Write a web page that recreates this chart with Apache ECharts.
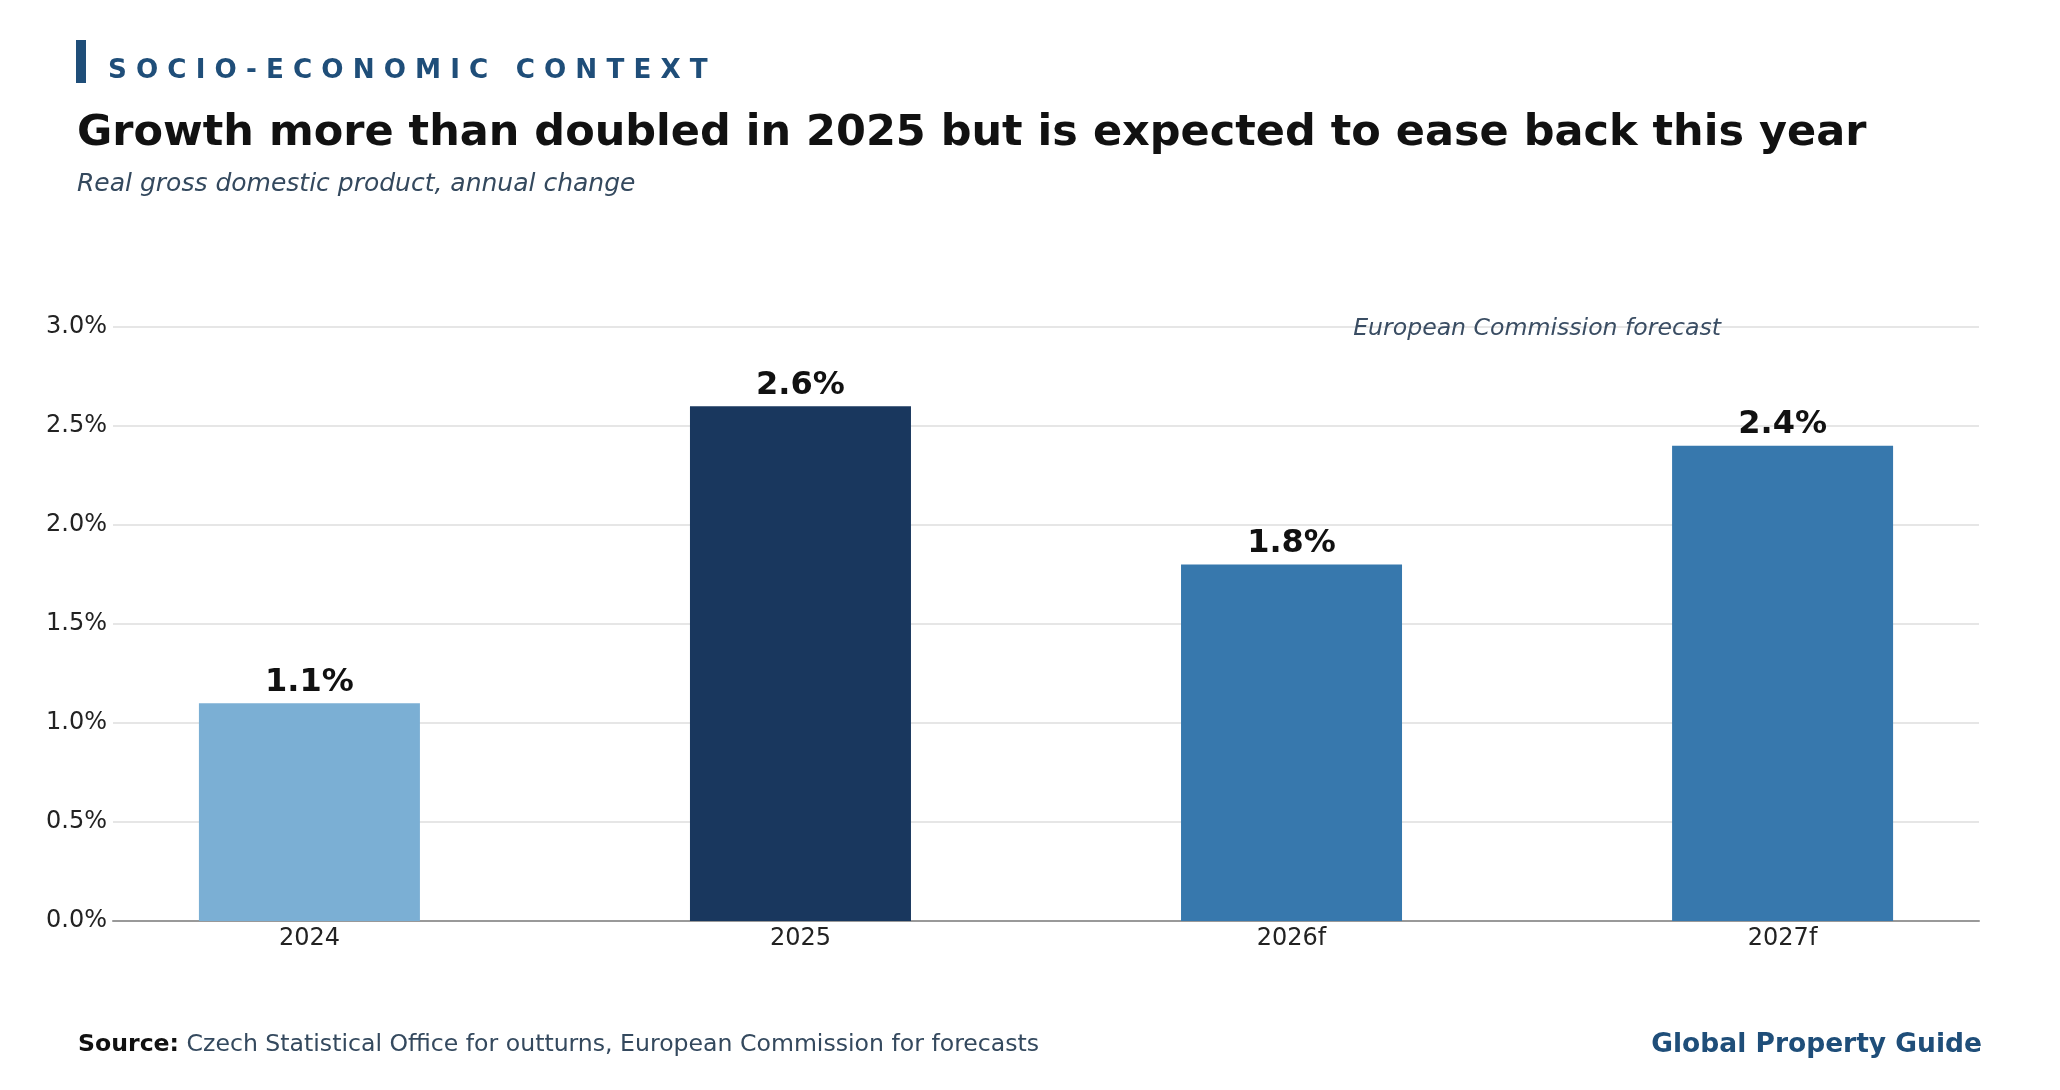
<!DOCTYPE html>
<html>
<head>
<meta charset="utf-8">
<script src="https://cdn.jsdelivr.net/npm/echarts@6/dist/echarts.min.js"></script>
<style>
  html, body { margin: 0; padding: 0; background: #fff; }
  #chart { width: 2060px; height: 1090px; }
</style>
</head>
<body>
<div id="chart"></div>
<script>
// data
var categories = ['2024', '2025', '2026f', '2027f'];
var growth = [1.1, 2.6, 1.8, 2.4];
var barColors = ['#7bafd4', '#19375e', '#3778ad', '#3778ad'];
var yTicks = [0, 0.5, 1.0, 1.5, 2.0, 2.5, 3.0];

var font = '"DejaVu Sans", "Noto Sans", sans-serif';

var myChart = echarts.init(document.getElementById('chart'));

var barData = growth.map(function (v, i) {
  return { value: [i, v], itemStyle: { color: barColors[i] } };
});

var option = {
  backgroundColor: '#fff',
  animation: false,
  textStyle: { fontFamily: font },
  grid: { left: 113, right: 81, top: 327, bottom: 169, containLabel: false },
  xAxis: {
    type: 'value',
    min: -0.4,
    max: 3.4,
    splitLine: { show: false },
    axisTick: { show: false },
    axisLine: { show: true, onZero: false, lineStyle: { color: '#999', width: 2 } },
    axisLabel: {
      customValues: [0, 1, 2, 3],
      formatter: function (v) { return categories[Math.round(v)] || ''; },
      color: '#222',
      fontSize: 24,
      fontFamily: font,
      margin: 6
    }
  },
  yAxis: {
    type: 'value',
    min: yTicks[0],
    max: yTicks[yTicks.length - 1],
    interval: 0.5,
    axisLine: { show: false },
    axisTick: { show: false },
    splitLine: { show: true, lineStyle: { color: '#dedede', width: 1.5 } },
    axisLabel: {
      formatter: function (v) { return v.toFixed(1) + '%'; },
      color: '#222',
      fontSize: 24,
      fontFamily: font,
      margin: 6,
      verticalAlign: 'middle',
      padding: [6, 0, 0, 0]
    }
  },
  series: [{
    type: 'bar',
    data: barData,
    barWidth: 221,
    label: {
      show: true,
      position: 'top',
      distance: 5,
      formatter: function (p) { return p.value[1].toFixed(1) + '%'; },
      color: '#111',
      fontSize: 32,
      fontWeight: 'bold',
      fontFamily: font
    },
    markPoint: {
      symbol: 'circle',
      symbolSize: 1,
      itemStyle: { color: 'rgba(0,0,0,0)' },
      data: [{ coord: [2.5, 3.0] }],
      label: {
        show: true,
        position: 'inside',
        offset: [0, 2],
        formatter: 'European Commission forecast',
        color: '#3a4d63',
        fontSize: 23.6,
        fontStyle: 'italic',
        fontFamily: font
      }
    }
  }],
  graphic: [
    { type: 'rect', left: 76, top: 40, shape: { width: 10, height: 43 }, style: { fill: '#1f4e79' } },
    { type: 'text', x: 108, y: 71, style: {
        text: 'S O C I O - E C O N O M I C   C O N T E X T',
        font: 'bold 26.2px ' + font, fill: '#1f4e79', verticalAlign: 'middle' } },
    { type: 'text', x: 77, y: 134, style: {
        text: 'Growth more than doubled in 2025 but is expected to ease back this year',
        font: 'bold 43px ' + font, fill: '#111', verticalAlign: 'middle' } },
    { type: 'text', x: 77, y: 184, style: {
        text: 'Real gross domestic product, annual change',
        font: 'italic 25px ' + font, fill: '#34495e', verticalAlign: 'middle' } },
    { type: 'text', x: 78, y: 1045, style: {
        text: '{b|Source:} {n|Czech Statistical Office for outturns, European Commission for forecasts}',
        font: '23.6px ' + font, verticalAlign: 'middle',
        rich: {
          b: { fontFamily: font, fontSize: 23.6, fontWeight: 'bold', fill: '#111' },
          n: { fontFamily: font, fontSize: 23.6, fill: '#34495e' }
        } } },
    { type: 'text', x: 1982, y: 1045, style: {
        text: 'Global Property Guide',
        font: 'bold 26.5px ' + font, fill: '#1f4e79', align: 'right', verticalAlign: 'middle' } }
  ]
};

myChart.setOption(option);
window.addEventListener('resize', myChart.resize);
</script>
</body>
</html>
